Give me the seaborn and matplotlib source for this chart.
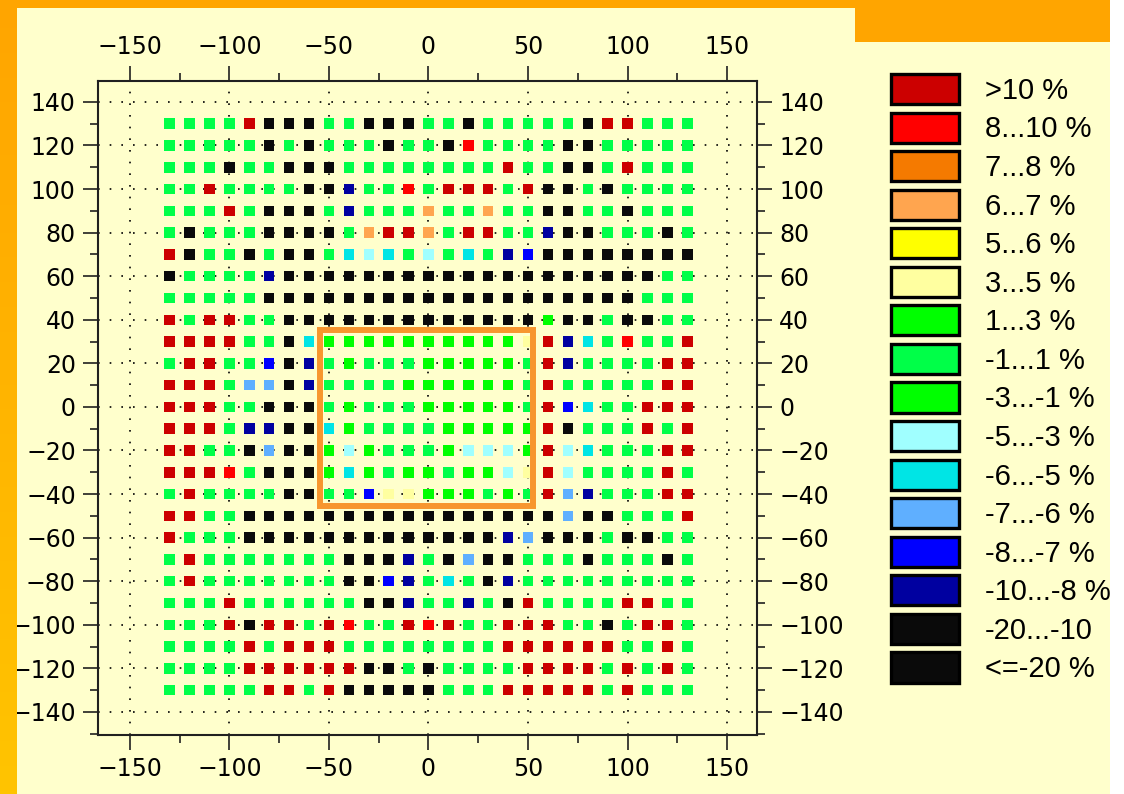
import numpy as np
import pandas as pd
import matplotlib
matplotlib.use("Agg")
import matplotlib.pyplot as plt
from matplotlib.patches import Rectangle
from matplotlib.ticker import MultipleLocator
import seaborn as sns

# Deviation classes (legend order) and their fill colours
CLASS_LABELS = [">10 %", "8...10 %", "7...8 %", "6...7 %", "5...6 %", "3...5 %",
                "1...3 %", "-1...1 %", "-3...-1 %", "-5...-3 %", "-6...-5 %",
                "-7...-6 %", "-8...-7 %", "-10...-8 %", "-20...-10", "<=-20 %"]
CLASS_COLORS = ["#CC0000", "#FF0000", "#F57A00", "#FFA54F", "#FFFF00", "#FFFFA0",
                "#00FF00", "#00FF48", "#00FF00", "#A0FFFF", "#00E5E5",
                "#5FAFFF", "#0000FF", "#0000A0", "#0A0A0A", "#0A0A0A"]
# one-letter code per class, same order as CLASS_LABELS
CLASS_CODES = "RrOoYyGgHcClBNKk"

# measurement positions
X_POS = list(range(-130, 131, 10))
Y_POS = list(range(130, -131, -10))

# measured class per position, one string per row (top row y=130 first)
GRID_ROWS = [
    "ggggRKKKg" + "gKKKggKgg" + "gggKRRggg",   # 130
    "gggggKgKg" + "ggKggKrgg" + "ggKKggggg",   # 120
    "gggKggKKK" + "ggggggggR" + "ggKKgRggg",   # 110
    "ggRggggKK" + "NggrgRRRg" + "RKKgKgggg",   # 100
    "gggRgKKKg" + "Ngggoggog" + "gKKggKggg",   # 90
    "gKgggKKKK" + "goRRogRRg" + "gNKKgggKg",   # 80
    "RKggKgKKg" + "CcCgcgCgN" + "BKKKKKKKK",   # 70
    "KggggNKKK" + "KKKKKKKKK" + "KKKKKKKgg",   # 60
    "gggggKKKK" + "KKKKKKKKK" + "KKKKKKggg",   # 50
    "RgRRggKKK" + "KKKKKKKKK" + "KGKKgKKgg",   # 40
    "RRRRggKCG" + "GGGGGGGGG" + "yRNCgrggR",   # 30
    "gRRggBKNg" + "GgggGGGGG" + "gRNggggRR",   # 20
    "RRRgllKNg" + "gggGGGGGG" + "gRgggggRR",   # 10
    "RRRggKKKg" + "GgggGGGGG" + "gRBCggRRR",   # 0
    "RRRgNNKKC" + "GggggGGGG" + "GRKgggRgR",   # -10
    "RRggKlKKG" + "cGgggGccc" + "GRcCgggRR",   # -20
    "RRRrgKKKG" + "CGgGGgGGc" + "yRcggggRg",   # -30
    "gRggggKKg" + "gByyGGGgG" + "gRlNgggRR",   # -40
    "RRggKKKKK" + "KKKKKKKKK" + "KKlKKgggR",   # -50
    "RgggKKKKK" + "KKKKKKKKN" + "lKKKgKKgg",   # -60
    "gRggggggg" + "KKKNgKlKK" + "gggKgggKg",   # -70
    "gRggggggg" + "KKBNgCgKN" + "ggggggggg",   # -80
    "gggRggggg" + "gKKNggNgK" + "RggggRRgg",   # -90
    "gggRKRRgR" + "rggRrRggR" + "RRggKgRRg",   # -100
    "ggggRgRRR" + "ggggggggR" + "RRRRRggRg",   # -110
    "ggggRRRRR" + "RKKgKgggg" + "RRRRgRgRg",   # -120
    "gggggRRgR" + "KKKKKgggR" + "RRRRgRggg",   # -130
]

# outlined central region
BOX_X = (-54.5, 52.5)
BOX_Y = (-45.5, 35.5)

code_to_label = dict(zip(CLASS_CODES, CLASS_LABELS))
records = []
for yv, row in zip(Y_POS, GRID_ROWS):
    for xv, code in zip(X_POS, row):
        records.append({"x": xv, "y": yv, "cls": code_to_label[code]})
df = pd.DataFrame(records)
palette = dict(zip(CLASS_LABELS, CLASS_COLORS))

W, H = 1124, 794
BG = "#FFFFCC"
fig = plt.figure(figsize=(W / 100, H / 100), dpi=100, facecolor=BG)

# main map axes
ax = fig.add_axes([98 / W, 1 - 735 / H, (757 - 98) / W, (735 - 81) / H], facecolor=BG)
sns.scatterplot(data=df, x="x", y="y", hue="cls", hue_order=CLASS_LABELS,
                palette=palette, marker="s", s=57, linewidth=0, legend=False,
                ax=ax, zorder=3)

ax.add_patch(Rectangle((BOX_X[0], BOX_Y[0]), BOX_X[1] - BOX_X[0], BOX_Y[1] - BOX_Y[0],
                       fill=False, edgecolor="#F7962E", linewidth=4.3, zorder=4))

ax.set_xlim(-166, 165)
ax.set_ylim(-150.6, 149.6)
ax.set_xticks(np.arange(-150, 151, 50))
ax.set_yticks(np.arange(-140, 141, 20))
ax.xaxis.set_minor_locator(MultipleLocator(25))
ax.yaxis.set_minor_locator(MultipleLocator(10))
ax.set_xlabel("")
ax.set_ylabel("")

ax.tick_params(which="both", direction="out", top=True, right=True,
               labeltop=True, labelright=True, labelbottom=True, labelleft=True,
               color="#202020", labelcolor="black")
ax.tick_params(which="major", length=11, width=1.2, pad=5, labelsize=17)
ax.tick_params(which="minor", length=5.5, width=1.2)
for lab in ax.get_xticklabels() + ax.get_yticklabels():
    lab.set_family("DejaVu Sans")
for sp in ax.spines.values():
    sp.set_linewidth(1.5)
    sp.set_color("#202020")

ax.set_axisbelow(True)
ax.grid(which="major", linestyle=(0, (1, 6)), linewidth=1.2, color="black")

# class legend drawn as a column of swatches
top_c, bot_c = 89.0, 667.5
step = (bot_c - top_c) / 15
lax = fig.add_axes([890.5 / W, 1 - (bot_c + step / 2) / H, 68 / W,
                    (bot_c - top_c + step) / H])
bars = lax.barh(range(len(CLASS_LABELS)), [1] * len(CLASS_LABELS), height=0.78,
                color=CLASS_COLORS, edgecolor="black", linewidth=2.4)
for b in bars:
    b.set_clip_on(False)
lax.set_xlim(0, 1)
lax.set_ylim(len(CLASS_LABELS) - 0.5, -0.5)
lax.axis("off")
for i, lab in enumerate(CLASS_LABELS):
    lax.text((985 - 890.5) / 68, i + 0.05, lab, ha="left", va="center",
             fontsize=21, family="Liberation Sans", color="black", clip_on=False)

# page frame: orange bands and white margin on the right
fig.patches.append(Rectangle((1110 / W, 0), 14 / W, 1, transform=fig.transFigure,
                             facecolor="white", edgecolor="none", zorder=10))
fig.patches.append(Rectangle((0, 1 - 8 / H), 855 / W, 8 / H, transform=fig.transFigure,
                             facecolor="#FFA500", edgecolor="none", zorder=10))
fig.patches.append(Rectangle((855 / W, 1 - 42 / H), (1110 - 855) / W, 42 / H,
                             transform=fig.transFigure, facecolor="#FFA500",
                             edgecolor="none", zorder=10))
gax = fig.add_axes([0, 0, 17 / W, 1], zorder=10)
grad = np.linspace(0, 1, 256).reshape(-1, 1)
gax.imshow(grad, aspect="auto", extent=(0, 1, 0, 1), origin="upper",
           cmap=matplotlib.colors.LinearSegmentedColormap.from_list(
               "band", ["#FFA500", "#FFC400"]))
gax.axis("off")

fig.savefig("out.png", dpi=100, facecolor=BG)
